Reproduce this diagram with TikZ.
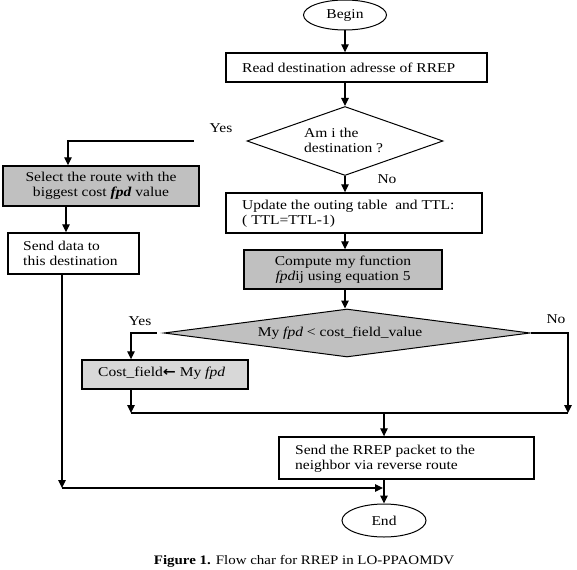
\documentclass[tikz,border=0pt]{standalone}
\usepackage{fontspec}
\setmainfont[FakeStretch=1.15]{Liberation Serif}
\newfontfamily\arrowfont[FakeStretch=1.15]{DejaVu Sans}
\usetikzlibrary{shapes.geometric,arrows.meta}

\definecolor{boxgray}{HTML}{C0C0C0}
\definecolor{lightgray}{HTML}{D8D8D8}

\tikzset{
  every node/.style={font=\fontsize{13.5}{15}\selectfont},
  flowline/.style={line width=1.1pt, draw=black},
  arr/.style={flowline, -{Triangle[length=8pt,width=7.5pt]}},
  terminal/.style={ellipse, draw, line width=1pt, inner sep=0pt},
  process/.style={rectangle, draw, line width=1.4pt, inner sep=0pt},
  decision/.style={diamond, draw, line width=1pt, inner sep=0pt},
  label/.style={inner sep=0pt},
}

\begin{document}
\begin{tikzpicture}[x=1pt, y=-1pt]
  \useasboundingbox (0,0) rectangle (577,569);

  % main column
  \node[terminal, minimum width=83pt, minimum height=30pt] (begin) at (345,15) {Begin};
  \node[process, minimum width=261pt, minimum height=29pt] (read) at (356.5,67.5) {};
  \node[label, anchor=west] (readtxt) at (242,67.5) {Read destination adresse of RREP};

  \node[decision, aspect=2.84, minimum width=196pt, minimum height=69pt] (d1) at (345,141) {};
  \node[label, align=left, anchor=west] (d1txt) at (304,140) {Am i the\\destination ?};

  \node[process, minimum width=256pt, minimum height=40pt] (update) at (354,213) {};
  \node[label, align=left, anchor=west] (updtxt) at (242,213.5) {Update the outing table~ and TTL:\\( TTL=TTL-1)};

  \node[process, fill=boxgray, minimum width=198pt, minimum height=39pt, align=center] (compute) at (343,269.5)
    {Compute my function\\\textit{fpd}ij using equation 5};

  \node[decision, fill=boxgray, aspect=7.6, minimum width=366pt, minimum height=48pt] (d2) at (347,333) {};
  \node[label] (d2txt) at (340,333) {My \textit{fpd} < cost\_field\_value};

  % left branch
  \node[process, fill=boxgray, minimum width=196pt, minimum height=40pt, align=center] (select) at (101,186)
    {Select the route with the\\biggest cost \textbf{\textit{fpd}} value};
  \node[process, minimum width=131pt, minimum height=41pt] (senddata) at (73.5,253.5) {};
  \node[label, align=left, anchor=west] (sdtxt) at (23,253.5) {Send data to\\this destination};

  \node[process, fill=lightgray, minimum width=166pt, minimum height=29pt] (cost) at (165,374.5) {};
  \node[label, anchor=west] (costtxt) at (98,373.5) {Cost\_field{\arrowfont\bfseries ←} My \textit{fpd}};

  \node[process, minimum width=255pt, minimum height=42pt] (rrep) at (406.5,458) {};
  \node[label, align=left, anchor=west] (rreptxt) at (295,458.5) {Send the RREP packet to the\\neighbor via reverse route};

  \node[terminal, minimum width=84pt, minimum height=33pt] (end) at (384,520.5) {End};

  % branch labels
  \node[label] (yes1) at (221,128) {Yes};
  \node[label] (no1) at (387,179) {No};
  \node[label] (yes2) at (140,321) {Yes};
  \node[label] (no2) at (556,319) {No};

  % caption
  \node[label, font=\fontsize{13}{15}\selectfont] (caption) at (304,561)
    {\textbf{Figure 1.} Flow char for RREP in LO-PPAOMDV};

  % connectors of the main column
  \draw[arr] (begin.south) -- (begin.south |- read.north);
  \draw[arr] (d1.north |- read.south) -- (d1.north);
  \draw[arr] (d1.south) -- (d1.south |- update.north);
  \draw[arr] (d1.south |- update.south) -- (d1.south |- compute.north);
  \draw[arr] (d1.south |- compute.south) -- (d1.south |- d2.north);

  % "Yes" of the first test
  \coordinate (selin) at ([xshift=-33pt]select.north);
  \draw[arr, shorten <=53pt] (d1.west) -| (selin);
  \coordinate (selout) at ([xshift=-35pt]select.south);
  \draw[arr] (selout) -- (selout |- senddata.north);

  % "Yes" and "No" of the second test
  \coordinate (costin) at ([xshift=-34pt]cost.north);
  \draw[arr, shorten <=7pt] (d2.west) -| (costin);
  \coordinate (merge) at (568,413);
  \draw[arr] (d2.east) -| (merge);
  \coordinate (costout) at ([xshift=-34pt]cost.south);
  \draw[arr] (costout) -- (costout |- merge);
  \draw[flowline] (costout |- merge) -- (merge);
  \draw[arr] (end.north |- merge) -- (end.north |- rrep.north);
  \draw[arr] (end.north |- rrep.south) -- (end.north);

  % data path back to the end
  \coordinate (sdout) at ([xshift=-11.5pt]senddata.south);
  \coordinate (join) at (sdout |- 0,488);
  \draw[arr] (sdout) -- (join);
  \draw[arr, shorten >=1pt] (join) -- (join -| end.north);
\end{tikzpicture}
\end{document}
